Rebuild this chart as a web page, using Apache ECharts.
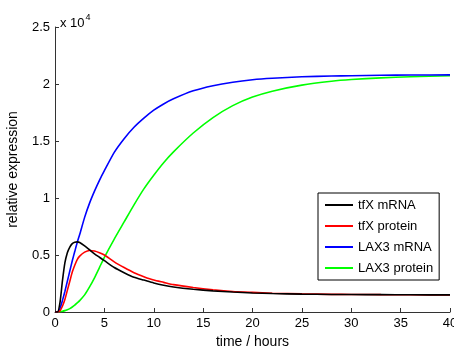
<!DOCTYPE html>
<html>
<head>
<meta charset="utf-8">
<script src="https://cdn.jsdelivr.net/npm/echarts@6/dist/echarts.min.js"></script>
<style>
html,body{margin:0;padding:0;background:#fff;}
#c{width:454px;height:347px;}
</style>
</head>
<body>
<div id="c"></div>
<script>
// time in hours
var time = [0,0.25,0.5,0.75,1,1.25,1.5,1.75,2,2.25,2.5,3,3.5,4,4.5,5,6,7,8,9,10,11,12,14,16,18,20,22,25,28,30,33,36,40];
// values in units of 10^4
var tfxMRNA = [0,0,0.08,0.27,0.43,0.52,0.57,0.60,0.612,0.615,0.61,0.58,0.545,0.51,0.48,0.45,0.39,0.345,0.305,0.28,0.255,0.235,0.22,0.2,0.185,0.175,0.167,0.162,0.157,0.154,0.153,0.152,0.151,0.15];
var tfxProtein = [0,0,0.01,0.05,0.11,0.19,0.27,0.35,0.41,0.46,0.49,0.525,0.54,0.535,0.52,0.50,0.44,0.39,0.345,0.31,0.28,0.26,0.24,0.215,0.195,0.18,0.172,0.165,0.159,0.155,0.154,0.152,0.151,0.15];
var lax3MRNA = [0,0,0.03,0.1,0.18,0.27,0.36,0.45,0.53,0.61,0.68,0.83,0.955,1.06,1.155,1.24,1.40,1.52,1.62,1.70,1.77,1.825,1.87,1.94,1.985,2.016,2.037,2.05,2.063,2.07,2.073,2.077,2.079,2.08];
var lax3Protein = [0,0,0.002,0.006,0.012,0.02,0.03,0.044,0.06,0.08,0.1,0.15,0.22,0.3,0.39,0.48,0.64,0.79,0.94,1.08,1.2,1.31,1.405,1.57,1.705,1.81,1.885,1.937,1.99,2.024,2.039,2.054,2.064,2.072];
var seriesNames = ['tfX mRNA','tfX protein','LAX3 mRNA','LAX3 protein'];
var seriesColors = ['#000000','#ff0000','#0000ff','#00ff00'];
var xTicks = [0,5,10,15,20,25,30,35,40];
var yTicks = [0,0.5,1,1.5,2,2.5];

function pairs(v){ return time.map(function(t,i){ return [t, v[i]]; }); }
var allData = [tfxMRNA, tfxProtein, lax3MRNA, lax3Protein];

var chart = echarts.init(document.getElementById('c'), null, {renderer:'canvas'});
var font = 'Liberation Sans, Arial, Helvetica, sans-serif';
var axisCommon = {
  axisLine:{show:true, lineStyle:{color:'#333', width:1}},
  axisTick:{show:true, inside:true, length:4, lineStyle:{color:'#333'}},
  splitLine:{show:false},
  axisLabel:{color:'#000', fontFamily:font, fontSize:13},
  nameTextStyle:{color:'#000', fontFamily:font, fontSize:14}
};
chart.setOption({
  animation:false,
  backgroundColor:'#fff',
  title:{
    text:'{a|x 10}{b|4}', left:55, top:8,
    textStyle:{rich:{
      a:{fontFamily:font, fontSize:13, fontWeight:'normal', color:'#000', verticalAlign:'bottom'},
      b:{fontFamily:font, fontSize:9, fontWeight:'normal', color:'#000', verticalAlign:'top', padding:[0,0,8,1]}
    }}
  },
  grid:{left:55, right:4, top:27, bottom:35, containLabel:false, outerBoundsMode:'none'},
  legend:{
    orient:'vertical', left:318, top:193,
    padding:[5,6,5,7], itemGap:7, itemWidth:28, itemHeight:2, icon:'rect',
    borderColor:'#000', borderWidth:1, backgroundColor:'#fff',
    textStyle:{fontFamily:font, fontSize:13, color:'#000', lineHeight:14},
    data:seriesNames
  },
  xAxis:Object.assign({
    type:'value', min:0, max:40, interval:5,
    name:'time / hours', nameLocation:'middle', nameGap:21
  }, axisCommon, {axisLabel:Object.assign({}, axisCommon.axisLabel, {margin:5, showMaxLabel:true})}),
  yAxis:Object.assign({
    type:'value', min:0, max:2.5, interval:0.5,
    name:'relative expression', nameLocation:'middle', nameGap:35
  }, axisCommon, {axisLabel:Object.assign({}, axisCommon.axisLabel, {margin:5, formatter:function(v){return String(v);}})}),
  series: seriesNames.map(function(n,i){
    return {
      name:n, type:'line', data:pairs(allData[i]), smooth:0.2,
      symbol:'none', showSymbol:false,
      lineStyle:{color:seriesColors[i], width:1.6},
      itemStyle:{color:seriesColors[i]}
    };
  }).reverse()
});
</script>
</body>
</html>
